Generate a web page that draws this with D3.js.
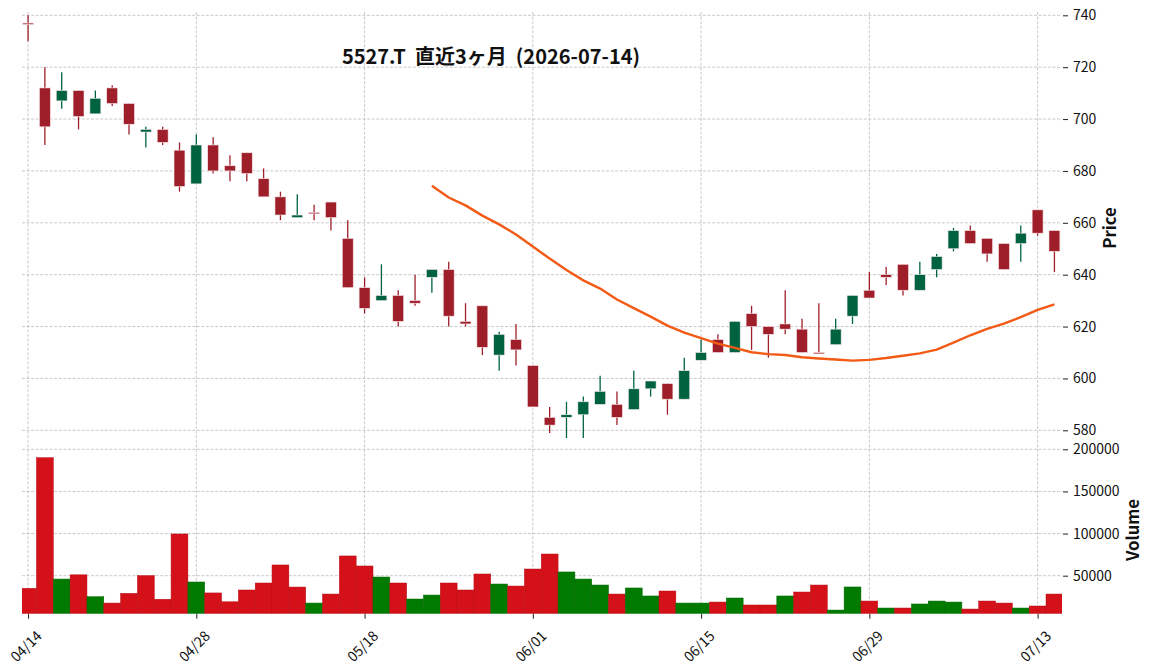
<!DOCTYPE html>
<html lang="ja">
<head>
<meta charset="utf-8">
<title>5527.T 直近3ヶ月</title>
<script src="https://cdn.jsdelivr.net/npm/d3@7/dist/d3.min.js"></script>
<style>
  body { margin: 0; background: #fff; }
  svg { display: block; font-family: "Noto Sans CJK JP", "Noto Sans", sans-serif; }
</style>
</head>
<body>
<script>
// Daily bars
var dates = ["04/14","04/15","04/16","04/17","04/20","04/21","04/22","04/23","04/24","04/27",
             "04/28","04/30","05/01","05/07","05/08","05/11","05/12","05/13","05/14","05/15",
             "05/18","05/19","05/20","05/21","05/22","05/25","05/26","05/27","05/28","05/29",
             "06/01","06/02","06/03","06/04","06/05","06/08","06/09","06/10","06/11","06/12",
             "06/15","06/16","06/17","06/18","06/19","06/22","06/23","06/24","06/25","06/26",
             "06/29","06/30","07/01","07/02","07/03","07/06","07/07","07/08","07/09","07/10",
             "07/13","07/14"];
var opens  = [737,712,707,711,702,712,706,695,696,688, 675,690,682,687,677,670,662,664,668,654,
              635,630,632,630,639,642,622,628,609,615, 605,585,585,586,590,590,588,596,598,592,
              607,615,610,625,620,621,619,610,613,624, 634,640,644,634,642,650,657,654,652,652,
              665,657];
var highs  = [740,720,718,711,711,713,706,697,697,691, 694,693,686,687,681,672,671,667,668,661,
              639,644,634,640,642,645,629,628,618,621, 605,589,591,593,601,595,603,599,598,608,
              615,617,622,628,620,634,623,629,623,632, 641,643,644,645,648,658,659,654,652,659,
              665,657];
var lows   = [730,690,704,696,702,705,694,689,690,672, 675,679,676,676,670,661,662,661,657,635,
              625,630,620,628,633,620,620,609,603,605, 589,579,577,577,590,582,588,593,586,592,
              607,610,610,611,608,617,610,610,613,621, 631,636,632,634,639,649,652,645,642,645,
              655,641];
var closes = [737,697,711,701,708,706,698,696,691,674, 690,680,680,679,670,663,663,664,662,635,
              627,632,622,629,642,624,621,612,617,611, 589,582,586,591,595,585,596,599,592,603,
              610,610,622,620,617,619,610,610,619,632, 631,639,634,640,647,657,652,648,642,656,
              656,649];
var volumes = [35000,190000,46000,51000,25000,17500,29000,50000,22000,99500,
               42500,29500,19000,33000,41300,62700,36500,17500,28200,73400,
               61500,48400,41300,22300,27000,41300,33000,52000,40100,37700,
               57900,75700,54400,46000,38900,28200,35400,25900,31800,17500,
               17500,18700,23500,15200,15200,25900,30600,38900,9200,36600,
               19900,11600,11600,16400,19900,18700,10400,19900,17500,11600,
               14000,28200];

var priceTicks = [580, 600, 620, 640, 660, 680, 700, 720, 740];
var volumeTicks = [50000, 100000, 150000, 200000];
var dateTickEvery = 10;
var maWindow = 25;
var titleText = "5527.T  直近3ヶ月  (2026-07-14)";

// Layout
var width = 1152, height = 671;
var left = 22, right = 1062;
var priceTop = 12, priceBottom = 441, volBottom = 613.7;

var colors = {
  candleUp: "#006340", candleDown: "#9e1f29",
  volUp: "#007a00", volDown: "#d41019",
  ma: "#f25a16", grid: "#bdbdbd", text: "#111"
};

var svg = d3.select("body").append("svg")
  .attr("width", width)
  .attr("height", height);

svg.append("rect")
  .attr("width", width)
  .attr("height", height)
  .attr("fill", "white");

var n = closes.length;
var x = d3.scaleLinear().domain([-0.36, n - 0.55]).range([left, right]);
var yPrice = d3.scaleLinear().domain([580, 740]).range([430.3, 15.3]);
var yVol = d3.scaleLinear().domain([0, 200000]).range([617.8, 449.3]);
var step = x(1) - x(0);

// clip paths for the two panels
var defs = svg.append("defs");
defs.append("clipPath").attr("id", "clipPrice").append("rect")
  .attr("x", left).attr("y", priceTop).attr("width", right - left).attr("height", priceBottom - priceTop);
defs.append("clipPath").attr("id", "clipVol").append("rect")
  .attr("x", left).attr("y", priceBottom).attr("width", right - left).attr("height", volBottom - priceBottom);

var tickIdx = d3.range(0, n, dateTickEvery);

// Grid
var grid = svg.append("g")
  .attr("stroke", colors.grid)
  .attr("stroke-width", 0.8)
  .attr("stroke-dasharray", "3,1.6");

grid.selectAll(".vgrid").data(tickIdx).enter().append("line")
  .attr("x1", function(d) { return x(d); })
  .attr("x2", function(d) { return x(d); })
  .attr("y1", priceTop)
  .attr("y2", volBottom);

grid.selectAll(".pgrid").data(priceTicks).enter().append("line")
  .attr("x1", left).attr("x2", right)
  .attr("y1", function(d) { return yPrice(d); })
  .attr("y2", function(d) { return yPrice(d); });

grid.selectAll(".vlgrid").data(volumeTicks).enter().append("line")
  .attr("x1", left).attr("x2", right)
  .attr("y1", function(d) { return yVol(d); })
  .attr("y2", function(d) { return yVol(d); });

// Candles
var bars = d3.range(n).map(function(i) {
  return {i: i, o: opens[i], h: highs[i], l: lows[i], c: closes[i], v: volumes[i],
          up: opens[i] < closes[i],
          volUp: i === 0 ? opens[i] < closes[i] : closes[i - 1] < closes[i]};
});

var candles = svg.append("g").attr("clip-path", "url(#clipPrice)");
var bodyW = step * 0.65;

candles.selectAll(".wick").data(bars).enter().append("line")
  .attr("x1", function(d) { return x(d.i); })
  .attr("x2", function(d) { return x(d.i); })
  .attr("y1", function(d) { return yPrice(d.h); })
  .attr("y2", function(d) { return yPrice(d.l); })
  .attr("stroke", function(d) { return d.up ? colors.candleUp : colors.candleDown; })
  .attr("stroke-width", 1.3);

candles.selectAll(".body").data(bars).enter().append("rect")
  .attr("x", function(d) { return x(d.i) - bodyW / 2; })
  .attr("y", function(d) { return yPrice(Math.max(d.o, d.c)); })
  .attr("width", bodyW)
  .attr("height", function(d) { return Math.max(1.4, Math.abs(yPrice(d.o) - yPrice(d.c))); })
  .attr("fill", function(d) { return d.up ? colors.candleUp : colors.candleDown; })
  .attr("stroke", "#f6e8ea")
  .attr("stroke-width", 0.6);

// Moving average of closes
var ma = [];
for (var i = maWindow - 1; i < n; i++) {
  ma.push({i: i, v: d3.mean(closes.slice(i - maWindow + 1, i + 1))});
}
candles.append("path")
  .datum(ma)
  .attr("fill", "none")
  .attr("stroke", colors.ma)
  .attr("stroke-width", 2.4)
  .attr("stroke-linejoin", "round")
  .attr("d", d3.line().x(function(d) { return x(d.i); }).y(function(d) { return yPrice(d.v); }));

// Volume
var vol = svg.append("g").attr("clip-path", "url(#clipVol)");
vol.selectAll("rect").data(bars).enter().append("rect")
  .attr("x", function(d) { return x(d.i) - step / 2; })
  .attr("y", function(d) { return yVol(d.v); })
  .attr("width", step)
  .attr("height", function(d) { return volBottom - yVol(d.v); })
  .attr("fill", function(d) { return d.volUp ? colors.volUp : colors.volDown; })
  .attr("stroke", function(d) { return d.volUp ? "#006a00" : "#b80d15"; })
  .attr("stroke-width", 0.5);

// Axes
function styleAxis(g) {
  g.select(".domain").remove();
  g.selectAll(".tick line").attr("stroke", "#222").attr("stroke-width", 1);
  g.selectAll(".tick text")
    .attr("fill", colors.text)
    .style("font-size", "14px")
    .style("font-family", "'Noto Sans CJK JP', 'Noto Sans', sans-serif");
}

svg.append("g")
  .attr("transform", "translate(" + (right + 1) + ",0)")
  .call(d3.axisRight(yPrice).tickValues(priceTicks).tickSize(5).tickPadding(5))
  .call(styleAxis);

svg.append("g")
  .attr("transform", "translate(" + (right + 1) + ",0)")
  .call(d3.axisRight(yVol).tickValues(volumeTicks).tickFormat(d3.format("d")).tickSize(5).tickPadding(5))
  .call(styleAxis);

var xAxis = svg.append("g")
  .attr("transform", "translate(0," + volBottom + ")")
  .call(d3.axisBottom(x).tickValues(tickIdx).tickFormat(function(i) { return dates[i]; }).tickSize(5))
  .call(styleAxis);

xAxis.selectAll(".tick text")
  .attr("y", 0)
  .attr("dy", null)
  .attr("text-anchor", "middle")
  .attr("dominant-baseline", "central")
  .attr("transform", "translate(-3,32) rotate(-45)");

// Labels
svg.append("text")
  .attr("transform", "translate(1116,228) rotate(-90)")
  .attr("text-anchor", "middle")
  .attr("fill", colors.text)
  .style("font-size", "16.7px")
  .style("font-weight", "bold")
  .text("Price");

svg.append("text")
  .attr("transform", "translate(1139,530) rotate(-90)")
  .attr("text-anchor", "middle")
  .attr("fill", colors.text)
  .style("font-size", "16.7px")
  .style("font-weight", "bold")
  .text("Volume");

svg.append("text")
  .attr("x", 491)
  .attr("y", 64)
  .attr("text-anchor", "middle")
  .attr("fill", colors.text)
  .style("font-size", "20px")
  .style("font-weight", "bold")
  .style("white-space", "pre")
  .text(titleText);
</script>
</body>
</html>
